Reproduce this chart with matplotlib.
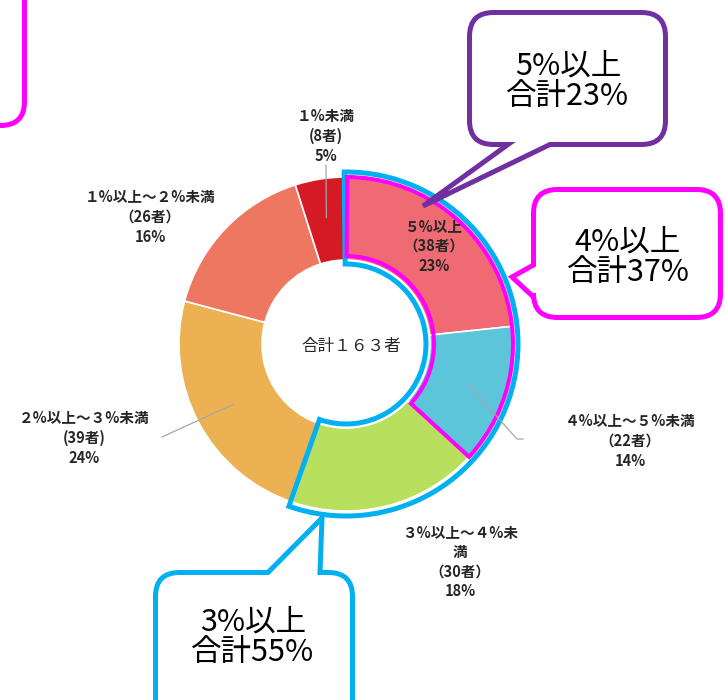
import numpy as np
import matplotlib
matplotlib.use('Agg')
import matplotlib.pyplot as plt
from matplotlib.path import Path
from matplotlib.patches import PathPatch, Wedge

plt.rcParams['font.family'] = ['Noto Sans CJK JP', 'DejaVu Sans']

# data
categories = ['５%以上', '４%以上～５%未満', '３%以上～４%未\n満',
              '２%以上～３%未満', '１%以上～２%未満', '１%未満']
counts = [38, 22, 30, 39, 26, 8]
count_fmt = ['（{}者）', '（{}者）', '（{}者）', '({}者)', '（{}者）', '({}者)']
shares = ['23%', '14%', '18%', '24%', '16%', '5%']
colors = ['#EF6A73', '#5CC5DA', '#B8DF5E', '#ECB153', '#EE7762', '#D51A25']
callout_texts = ['5%以上\n合計23%', '4%以上\n合計37%', '3%以上\n合計55%']

W, H = 725, 700
CX, CY = 346, H - 344
R, RIN = 167, 84

# label centres (px from top-left) and optional leader end points
label_pos = [(434, 246), (630, 441), (460, 562), (84, 438), (150, 217), (326, 136)]
leader_end = [None, [(517, 439), (523, 439)], None, [(162, 437)], None, [(326, 165)]]


def Y(y):
    return H - y


def callout_path(x0, y0, x1, y1, r, tail=None):
    # rounded box in pixel coords (y down), optional tail (side, a, b, tip)
    v = []
    c = []

    def line(p):
        v.append(p)
        c.append(Path.LINETO)

    def corner(ctrl, end):
        v.extend([ctrl, end])
        c.extend([Path.CURVE3, Path.CURVE3])

    side = tail[0] if tail else None
    v.append((x0 + r, y0))
    c.append(Path.MOVETO)
    if side == 'top':
        line((tail[1], y0)); line(tail[3]); line((tail[2], y0))
    line((x1 - r, y0)); corner((x1, y0), (x1, y0 + r))
    line((x1, y1 - r)); corner((x1, y1), (x1 - r, y1))
    if side == 'bottom':
        line((tail[2], y1)); line(tail[3]); line((tail[1], y1))
    line((x0 + r, y1)); corner((x0, y1), (x0, y1 - r))
    if side == 'left':
        line((x0, tail[2])); line(tail[3]); line((x0, tail[1]))
    line((x0, y0 + r)); corner((x0, y0), (x0 + r, y0))
    v.append((x0 + r, y0))
    c.append(Path.CLOSEPOLY)
    return Path([(x, Y(y)) for x, y in v], c)


fig = plt.figure(figsize=(W / 100, H / 100), dpi=100)
ax = fig.add_axes([0, 0, 1, 1])

wedges, _ = ax.pie(counts, colors=colors, startangle=90, counterclock=False,
                   center=(CX, CY), radius=R,
                   wedgeprops=dict(width=R - RIN, edgecolor='white', linewidth=1.2))

ax.set_xlim(0, W)
ax.set_ylim(0, H)
ax.set_aspect('equal')
ax.axis('off')

# segment labels
total = sum(counts)
edges = 90 - 360 * np.cumsum([0] + counts) / total
for i, cat in enumerate(categories):
    txt = cat + '\n' + count_fmt[i].format(counts[i]) + '\n' + shares[i]
    x, y = label_pos[i]
    ax.text(x, Y(y), txt, ha='center', va='center', fontsize=10.5,
            fontweight='bold', color='#262626', linespacing=1.28)
    if leader_end[i]:
        mid = np.deg2rad((edges[i] + edges[i + 1]) / 2)
        xs = [CX + 128 * np.cos(mid)] + [p[0] for p in leader_end[i]]
        ys = [CY + 128 * np.sin(mid)] + [Y(p[1]) for p in leader_end[i]]
        ax.plot(xs, ys, color='#A6A6A6', lw=0.9)

full = str.maketrans('0123456789', '０１２３４５６７８９')
ax.text(351, Y(347), '合計' + str(total).translate(full) + '者', ha='center',
        va='center', fontsize=12, color='#262626')

# group outlines
cyan, magenta, purple = '#00B0F0', '#FF00FF', '#7030A0'
ax.add_patch(Wedge((CX, CY), 172, edges[3] - 0.6, 90.6, width=92,
                   fill=False, edgecolor=cyan, lw=3.6, joinstyle='miter'))
ax.add_patch(Wedge((CX, CY), 167, edges[2], 89.6, width=79,
                   fill=False, edgecolor=magenta, lw=2.9, joinstyle='miter'))

# callouts
boxes = [
    (469.5, 12.5, 665.5, 144.5, ('bottom', 508, 550, (423, 206)), purple),
    (533.5, 189.5, 720.5, 317.5, ('left', 265, 297, (512, 277)), magenta),
    (155.5, 572.5, 352.5, 760, ('top', 268, 320, (322, 518)), cyan),
]
text_pos = [(568, 81), (628, 257), (253, 637)]
for (x0, y0, x1, y1, tail, col), t, (tx, ty) in zip(boxes, callout_texts, text_pos):
    ax.add_patch(PathPatch(callout_path(x0, y0, x1, y1, 24, tail), facecolor='white',
                           edgecolor=col, lw=3.6, joinstyle='miter'))
    ax.text(tx, Y(ty), t, ha='center', va='center', fontsize=22,
            color='black', linespacing=0.97)

# partly visible box at top left
ax.add_patch(PathPatch(callout_path(-60, -60, 24.5, 125.5, 24), facecolor='white',
                       edgecolor=magenta, lw=3.6))

fig.savefig('out.png', dpi=100)
